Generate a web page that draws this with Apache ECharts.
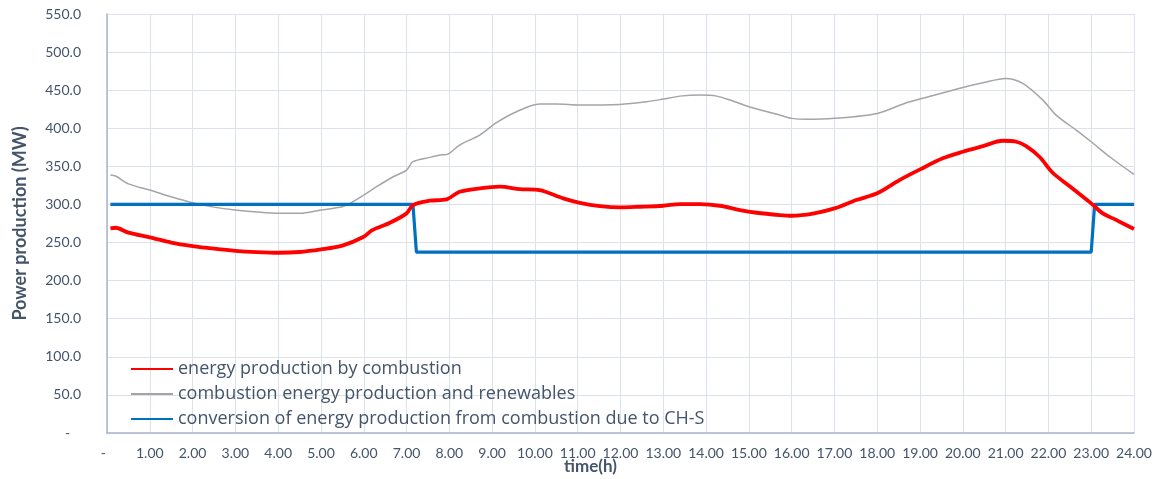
<!DOCTYPE html>
<html>
<head>
<meta charset="utf-8">
<script src="https://cdn.jsdelivr.net/npm/echarts@6/dist/echarts.min.js"></script>
<style>
  html, body { margin: 0; padding: 0; background: #fff; }
  #chart { width: 1159px; height: 479px; }
</style>
</head>
<body>
<div id="chart"></div>
<script>
// [time (h), MW]
const combustion = [
  [0.08, 268.6], [0.2, 269.4], [0.5, 263], [1.0, 256.8], [1.5, 250], [2.0, 245.4],
  [2.5, 242], [3.0, 239.2], [3.5, 237.5], [4.0, 236.6], [4.5, 237.6], [5.0, 241],
  [5.5, 246], [6.0, 257.6], [6.2, 266.4], [6.6, 275.6], [7.0, 288.3], [7.15, 299.2],
  [7.54, 304.9], [7.93, 306.6], [8.24, 316.7], [8.71, 321.1], [9.18, 323.3], [9.65, 320.2],
  [10.11, 318.9], [10.66, 308], [11.05, 302.2], [11.52, 297.9], [12.0, 296.2], [12.45, 297],
  [13.0, 298.3], [13.39, 300.5], [13.86, 300.5], [14.32, 298.3], [14.79, 292.6], [15.18, 289.1],
  [15.72, 286.1], [16.0, 285.2], [16.5, 288], [17.0, 294.8], [17.51, 305.8], [18.0, 314.6],
  [18.52, 332], [19.0, 346], [19.53, 360.5], [20.0, 369.2], [20.47, 376.6], [20.93, 383.6],
  [21.25, 382.3], [21.48, 376.6], [21.79, 362.6], [22.1, 341.6], [22.49, 324.2], [23.0, 301.4],
  [23.27, 288.3], [23.59, 279.5], [24.0, 267.7]
];

const withRenewables = [
  [0.08, 338.6], [0.2, 337.3], [0.5, 327], [1.0, 318.9], [1.5, 310], [2.0, 302.2],
  [2.5, 296.5], [3.0, 292.6], [3.5, 290], [4.0, 288.3], [4.5, 288.3], [5.0, 292.6],
  [5.5, 297], [5.68, 301.4], [6.0, 312.3], [6.3, 323.3], [6.69, 336.4], [7.0, 345],
  [7.15, 356.1], [7.54, 361.8], [7.78, 364.8], [7.97, 366.1], [8.24, 378], [8.71, 391.1],
  [9.1, 407.3], [9.57, 421.7], [10.11, 431.7], [10.5, 431.7], [11.05, 430.4], [11.98, 431.3],
  [12.61, 434.8], [13.0, 438.3], [13.39, 442.2], [13.86, 443.6], [14.25, 442.2], [14.56, 437],
  [15.02, 428], [15.72, 417.3], [16.0, 413], [16.34, 411.7], [17.0, 413], [18.0, 419.5],
  [18.68, 433.5], [19.0, 438.3], [20.0, 453.6], [20.47, 459.7], [21.0, 465.4], [21.4, 458.9],
  [21.87, 437], [22.18, 417.3], [22.65, 397.6], [23.0, 382.3], [23.43, 362.6], [24.0, 339.5]
];

const conversion = [
  [0.08, 300], [7.15, 300], [7.23, 237.5], [23.0, 237.5], [23.08, 300], [24.0, 300]
];

const seriesNames = [
  'energy production by combustion',
  'combustion energy production and renewables',
  'conversion of energy production from combustion due to CH-S'
];

const textColor = '#44546A';
const font = 'Lato';

const chart = echarts.init(document.getElementById('chart'));

chart.setOption({
  animation: false,
  grid: { left: 107, right: 25, top: 14, bottom: 46, outerBoundsMode: 'none', containLabel: false },
  legend: {
    orient: 'vertical',
    left: 125,
    top: 352,
    itemWidth: 42,
    itemHeight: 12,
    itemGap: 1,
    data: seriesNames,
    itemStyle: { opacity: 0 },
    textStyle: { color: textColor, fontSize: 18, fontFamily: 'Open Sans', lineHeight: 24 }
  },
  xAxis: {
    type: 'value',
    min: 0,
    max: 24,
    interval: 1,
    name: 'time(h)',
    nameLocation: 'middle',
    nameGap: 25,
    nameMoveOverlap: false,
    nameTextStyle: { color: textColor, fontSize: 17, fontWeight: 'bold', fontFamily: font, padding: [0, 60, 0, 0] },
    axisLine: { lineStyle: { color: '#A9B5C7', width: 1.5 } },
    axisTick: { show: false },
    axisLabel: {
      color: textColor, fontSize: 14, fontFamily: font, margin: 13,
      formatter: (v) => (v === 0 ? '-  ' : v.toFixed(2))
    },
    splitLine: { show: true, lineStyle: { color: '#DDE2EA', width: 1 } }
  },
  yAxis: {
    type: 'value',
    min: 0,
    max: 550,
    interval: 50,
    name: 'Power production (MW)',
    nameLocation: 'middle',
    nameGap: 78,
    nameTextStyle: { color: textColor, fontSize: 18, fontWeight: 'bold', fontFamily: font },
    axisLine: { show: true, lineStyle: { color: '#A9B5C7', width: 1.5 } },
    axisTick: { show: false },
    axisLabel: {
      color: textColor, fontSize: 14, fontFamily: font, margin: 26,
      formatter: (v) => (v === 0 ? '-   ' : v.toFixed(1))
    },
    splitLine: { show: true, lineStyle: { color: '#DDE2EA', width: 1 } }
  },
  series: [
    {
      name: seriesNames[0],
      type: 'line',
      data: combustion,
      symbol: 'none',
      smooth: 0.3,
      lineStyle: { color: '#FF0000', width: 3.8 },
      itemStyle: { color: '#FF0000' },
      z: 4
    },
    {
      name: seriesNames[1],
      type: 'line',
      data: withRenewables,
      symbol: 'none',
      smooth: 0.3,
      lineStyle: { color: '#A5A5A5', width: 1.5 },
      itemStyle: { color: '#A5A5A5' },
      z: 2
    },
    {
      name: seriesNames[2],
      type: 'line',
      data: conversion,
      symbol: 'none',
      lineStyle: { color: '#0070C0', width: 3.2 },
      itemStyle: { color: '#0070C0' },
      z: 3
    }
  ]
});

window.addEventListener('resize', () => chart.resize());
</script>
</body>
</html>
